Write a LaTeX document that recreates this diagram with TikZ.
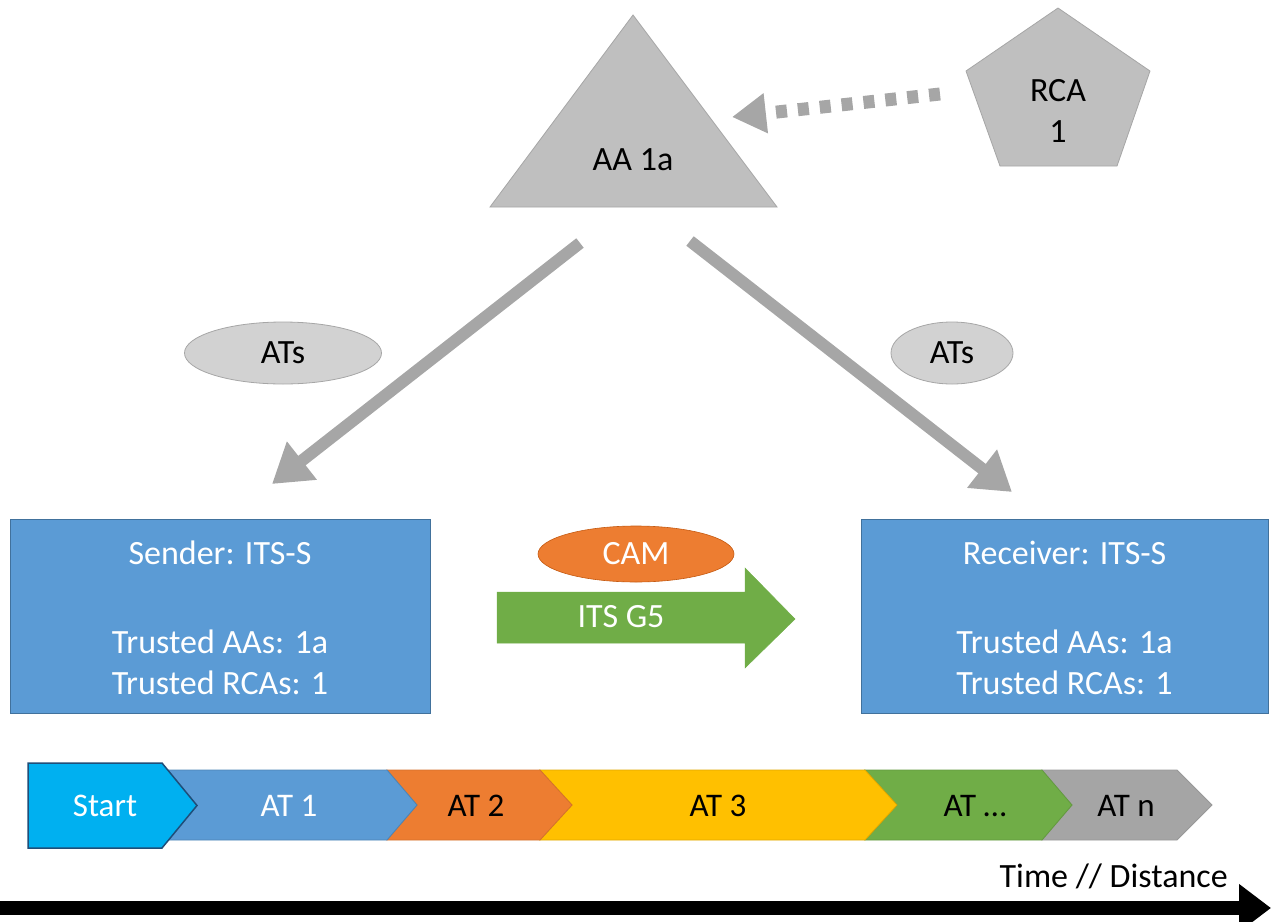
\documentclass[tikz,border=0pt]{standalone}
\usepackage{fontspec}
\setmainfont{Carlito}
\usetikzlibrary{arrows.meta,shapes.geometric}

\definecolor{shapegray}{HTML}{BFBFBF}
\definecolor{edgegray}{HTML}{A6A6A6}
\definecolor{ovalgray}{HTML}{D2D2D2}
\definecolor{boxblue}{HTML}{5B9BD5}
\definecolor{boxedge}{HTML}{41719C}
\definecolor{camorange}{HTML}{ED7D31}
\definecolor{camedge}{HTML}{C55A11}
\definecolor{g5green}{HTML}{70AD47}
\definecolor{g5edge}{HTML}{639A3F}
\definecolor{atyellow}{HTML}{FFC000}
\definecolor{yellowedge}{HTML}{E0A800}
\definecolor{atgray}{HTML}{A5A5A5}
\definecolor{startblue}{HTML}{00B0F0}
\definecolor{startedge}{HTML}{1F4E79}

\begin{document}
\begin{tikzpicture}[x=1pt,y=-1pt,
  txt/.style={font=\fontsize{34}{41}\selectfont, inner sep=0pt},
  wtxt/.style={txt, text=white},
  chevtxt/.style={font=\fontsize{33}{40}\selectfont, inner sep=0pt},
  grayshape/.style={fill=shapegray, draw=edgegray, line width=0.8pt},
  oval/.style={ellipse, fill=ovalgray, draw=edgegray, line width=0.8pt,
    minimum height=62pt, inner sep=0pt, font=\fontsize{34}{40}\selectfont},
  itsbox/.style={rectangle, fill=boxblue, draw=boxedge, line width=1pt,
    minimum width=420pt, minimum height=194pt, inner sep=0pt},
  bigarrow/.style={edgegray, line width=12pt,
    -{Triangle[length=38pt,width=46pt]}},
  dotarrow/.style={edgegray, line width=13pt, dash pattern=on 11pt off 11pt,
    -{Triangle[length=34pt,width=38pt]}},
  chevline/.style={line width=0.8pt, line join=miter}
]
\useasboundingbox (0,0) rectangle (1271,921);

% authority shapes
\filldraw[grayshape] (633,15) -- (777,207) -- (490,207) -- cycle;
\node[txt] (aa) at (633,160) {AA 1a};
\filldraw[grayshape] (1058,8) -- (1150,71) -- (1117,166) -- (1000,166) -- (966,71) -- cycle;
\node[txt, align=center] (rca) at (1058,111) {RCA\\1};

% connector endpoints
\coordinate (rcaout) at (940,94);
\coordinate (aain) at (732,117);
\coordinate (aasw) at (580,243);
\coordinate (aase) at (690,241);
\coordinate (sendin) at (272,484);
\coordinate (recvin) at (1012,492);

\draw[dotarrow] (rcaout) -- (aain);
\draw[bigarrow] (aasw) -- (sendin);
\draw[bigarrow] (aase) -- (recvin);

\node[oval, minimum width=197pt] (atsL) at (283,353) {ATs};
\node[oval, minimum width=122pt] (atsR) at (952,353) {ATs};

% stations
\node[itsbox] (sender) at (220,616.5) {};
\node[wtxt] (sendtitle) at (220,553) {Sender: ITS-S};
\node[wtxt, align=center] (sendtrust) at (220,662) {Trusted AAs: 1a\\Trusted RCAs: 1};

\node[itsbox, minimum width=407pt] (receiver) at (1064.5,616.5) {};
\node[wtxt] (recvtitle) at (1064.5,553) {Receiver: ITS-S};
\node[wtxt, align=center] (recvtrust) at (1064.5,662) {Trusted AAs: 1a\\Trusted RCAs: 1};

% message link
\filldraw[fill=g5green, draw=g5green, line width=0.5pt]
  (497,592) -- (745,592) -- (745,568) -- (795,619) -- (745,668) -- (745,643) -- (497,643) -- cycle;
\node[wtxt] (g5) at (621,617) {ITS G5};
\node[ellipse, fill=camorange, draw=camedge, line width=0.6pt, minimum width=196pt,
  minimum height=56pt, inner sep=0pt, text=white, font=\fontsize{34}{41}\selectfont]
  (cam) at (636,554) {CAM};

% AT timeline
\filldraw[fill=atgray, draw=atgray!92!black, chevline]
  (1042,770) -- (1177,770) -- (1212,805) -- (1177,840) -- (1042,840) -- (1072,805) -- cycle;
\filldraw[fill=g5green, draw=g5edge, chevline]
  (865,770) -- (1042,770) -- (1072,805) -- (1042,840) -- (865,840) -- (897,805) -- cycle;
\filldraw[fill=atyellow, draw=yellowedge, chevline]
  (540,770) -- (865,770) -- (897,805) -- (865,840) -- (540,840) -- (572,805) -- cycle;
\filldraw[fill=camorange, draw=camorange!90!black, chevline]
  (387,770) -- (540,770) -- (572,805) -- (540,840) -- (387,840) -- (417,805) -- cycle;
\filldraw[fill=boxblue, draw=boxblue!85!black, chevline]
  (160,770) -- (387,770) -- (417,805) -- (387,840) -- (160,840) -- cycle;
\filldraw[fill=startblue, draw=startedge, line width=1.5pt, line join=miter]
  (28,763) -- (162,763) -- (197,805.5) -- (162,848) -- (28,848) -- cycle;

\node[chevtxt, text=white] (tstart) at (105,806) {Start};
\node[chevtxt, text=white] (t1) at (289,806) {AT 1};
\node[chevtxt] (t2) at (476,806) {AT 2};
\node[chevtxt] (t3) at (718,806) {AT 3};
\node[chevtxt] (tdots) at (975,806) {AT \dots};
\node[chevtxt] (tn) at (1126,806) {AT n};

% time axis
\node[txt, anchor=east] (axislabel) at (1228,876) {Time // Distance};
\coordinate (axisstart) at (0,908);
\coordinate (axisend) at (1271,908);
\draw[black, line width=14pt, -{Triangle[length=32pt,width=46pt]}] (axisstart) -- (axisend);
\end{tikzpicture}
\end{document}
